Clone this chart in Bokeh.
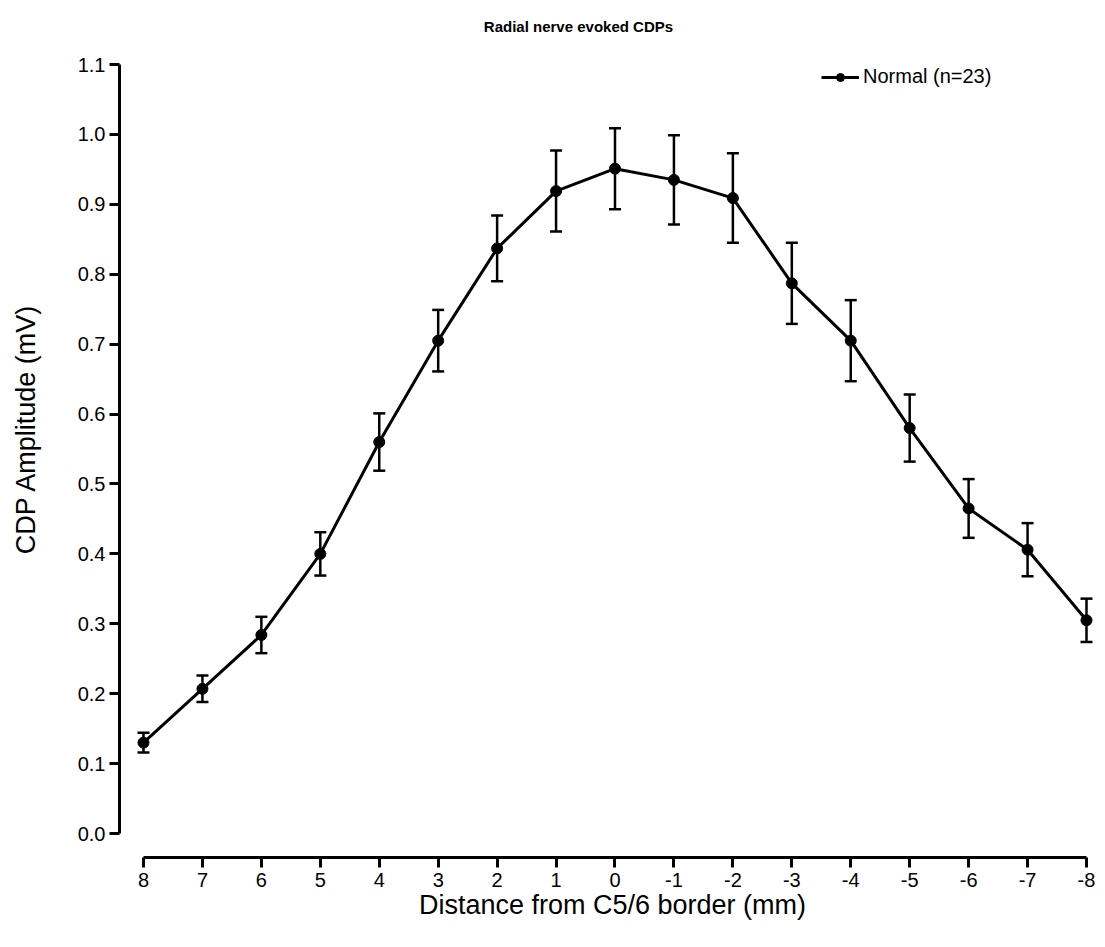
import numpy as np
from bokeh.plotting import figure
from bokeh.models import (ColumnDataSource, Whisker, TeeHead, FixedTicker,
                          PrintfTickFormatter, Legend, LegendItem, Range1d, Label)
from bokeh.embed import file_html
from bokeh.resources import INLINE

# ---- data ----
distance = [8, 7, 6, 5, 4, 3, 2, 1, 0, -1, -2, -3, -4, -5, -6, -7, -8]
amplitude = [0.130, 0.207, 0.284, 0.400, 0.560, 0.705, 0.837, 0.919, 0.951,
             0.935, 0.909, 0.787, 0.705, 0.580, 0.465, 0.406, 0.305]
sem = [0.014, 0.019, 0.026, 0.031, 0.041, 0.044, 0.047, 0.058, 0.058,
       0.064, 0.064, 0.058, 0.058, 0.048, 0.042, 0.038, 0.031]
y_ticks = [0.0, 0.1, 0.2, 0.3, 0.4, 0.5, 0.6, 0.7, 0.8, 0.9, 1.0, 1.1]
x_ticks = [8, 7, 6, 5, 4, 3, 2, 1, 0, -1, -2, -3, -4, -5, -6, -7, -8]
title_text = "Radial nerve evoked CDPs"
x_label = "Distance from C5/6 border (mm)"
y_label = "CDP Amplitude (mV)"
legend_label = "Normal (n=23)"

FONT = "Liberation Sans"

src = ColumnDataSource(dict(
    x=distance, y=amplitude,
    upper=[a + s for a, s in zip(amplitude, sem)],
    lower=[a - s for a, s in zip(amplitude, sem)],
))

# frame spans the full height above the x axis; axis lines are bounded
p = figure(width=1105, height=947, output_backend="svg", toolbar_location=None,
           x_range=Range1d(8.4072, -8.3224), y_range=Range1d(-0.0343, 1.1916),
           min_border_left=119, min_border_right=0, min_border_top=0,
           min_border_bottom=90)
p.outline_line_color = None
p.grid.visible = False
p.background_fill_color = "white"
p.border_fill_color = "white"

# axes
for ax in (p.xaxis[0], p.yaxis[0]):
    ax.axis_line_width = 3
    ax.axis_line_color = "black"
    ax.major_tick_line_width = 3
    ax.major_tick_line_color = "black"
    ax.major_tick_out = 10
    ax.major_tick_in = 0
    ax.minor_tick_line_color = None
    ax.major_label_text_font = FONT
    ax.major_label_text_font_size = "20px"
    ax.major_label_text_color = "black"
    ax.axis_label_text_font = FONT
    ax.axis_label_text_font_size = "27px"
    ax.axis_label_text_font_style = "normal"
    ax.axis_label_text_color = "black"

p.yaxis[0].ticker = FixedTicker(ticks=y_ticks)
p.yaxis[0].formatter = PrintfTickFormatter(format="%.1f")
p.yaxis[0].bounds = (0, 1.1)
p.yaxis[0].major_label_standoff = 4
p.yaxis[0].axis_label = y_label
p.yaxis[0].axis_label_standoff = 34

p.xaxis[0].ticker = FixedTicker(ticks=x_ticks)
p.xaxis[0].formatter = PrintfTickFormatter(format="%d")
p.xaxis[0].bounds = (-8, 8)
p.xaxis[0].major_label_standoff = 5
p.xaxis[0].axis_label = x_label
p.xaxis[0].axis_label_standoff = 0

# chart title
p.add_layout(Label(x=0.62, y=1.1544, text=title_text, text_font=FONT,
                   text_font_size="15px", text_font_style="bold",
                   text_color="black", text_align="center",
                   text_baseline="middle"))

# error bars
wh = Whisker(source=src, base="x", upper="upper", lower="lower",
             line_width=2.5, line_color="black",
             upper_head=TeeHead(size=12, line_width=2.5, line_color="black"),
             lower_head=TeeHead(size=12, line_width=2.5, line_color="black"))
p.add_layout(wh)

ln = p.line("x", "y", source=src, line_width=3, line_color="black")
sc = p.scatter("x", "y", source=src, size=11, fill_color="black", line_color="black")

legend = Legend(items=[LegendItem(label=legend_label, renderers=[ln, sc])],
                location=(702, 769), label_text_font=FONT,
                label_text_font_size="20px", label_text_color="black",
                glyph_width=38, glyph_height=20,
                padding=0, margin=0, spacing=0, label_standoff=4,
                background_fill_alpha=0, border_line_color=None)
p.add_layout(legend)

open("out.html", "w").write(file_html(p, INLINE))
